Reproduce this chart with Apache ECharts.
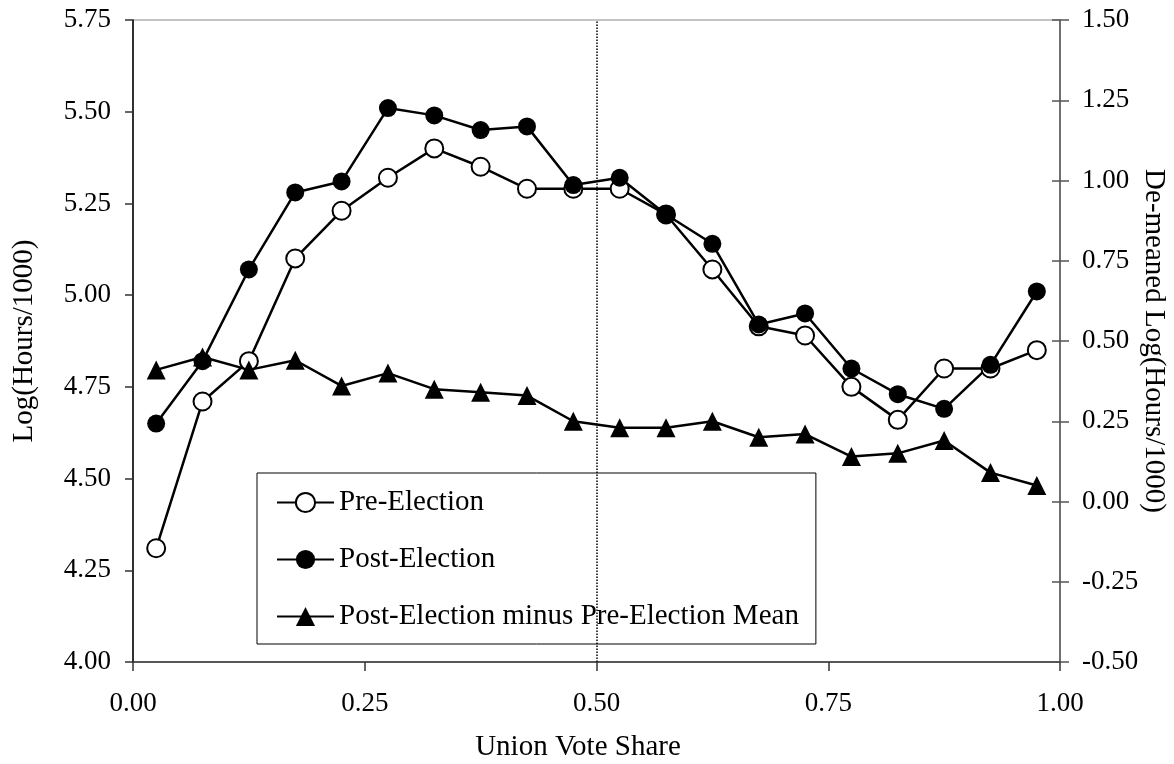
<!DOCTYPE html>
<html>
<head>
<meta charset="utf-8">
<script src="https://cdn.jsdelivr.net/npm/echarts@6/dist/echarts.min.js"></script>
<style>
  html, body { margin: 0; padding: 0; background: #fff; }
  #chart { width: 1174px; height: 764px; }
</style>
</head>
<body>
<div id="chart"></div>
<script>
// bin midpoints of union vote share
const voteShare = [0.025, 0.075, 0.125, 0.175, 0.225, 0.275, 0.325, 0.375, 0.425, 0.475,
                   0.525, 0.575, 0.625, 0.675, 0.725, 0.775, 0.825, 0.875, 0.925, 0.975];
// left axis: Log(Hours/1000)
const preElection = [4.31, 4.71, 4.82, 5.10, 5.23, 5.32, 5.40, 5.35, 5.29, 5.29,
                     5.29, 5.22, 5.07, 4.915, 4.89, 4.75, 4.66, 4.80, 4.80, 4.85];
const postElection = [4.65, 4.82, 5.07, 5.28, 5.31, 5.51, 5.49, 5.45, 5.46, 5.30,
                      5.32, 5.22, 5.14, 4.92, 4.95, 4.80, 4.73, 4.69, 4.81, 5.01];
// right axis: de-meaned
const postMinusPreMean = [0.41, 0.45, 0.41, 0.44, 0.36, 0.40, 0.35, 0.34, 0.33, 0.25,
                          0.23, 0.23, 0.25, 0.20, 0.21, 0.14, 0.15, 0.19, 0.09, 0.05];
const cutoff = 0.5;

const FONT = "'Liberation Serif', 'Times New Roman', serif";

const pairs = (ys) => voteShare.map((x, i) => [x, ys[i]]);

const chart = echarts.init(document.getElementById('chart'));

const tickLabel = {
  fontFamily: FONT, fontSize: 27, color: '#000', margin: 22,
  formatter: (v) => v.toFixed(2)
};

chart.setOption({
  animation: false,
  backgroundColor: '#fff',
  grid: {
    left: 133, right: 114, top: 20, bottom: 102,
    outerBoundsMode: 'none', containLabel: false,
    show: true, borderColor: '#888', borderWidth: 1
  },
  legend: {
    orient: 'vertical',
    left: 257, top: 473,
    padding: [15, 17, 13, 19],
    itemWidth: 57, itemHeight: 24, itemGap: 28,
    backgroundColor: '#fff',
    borderColor: '#000', borderWidth: 1, borderRadius: 0,
    textStyle: { fontFamily: FONT, fontSize: 29, color: '#000' },
    data: ['Pre-Election', 'Post-Election', 'Post-Election minus Pre-Election Mean']
  },
  xAxis: {
    type: 'value', min: 0, max: 1, interval: 0.25,
    splitLine: { show: false },
    axisLine: { onZero: false, lineStyle: { color: '#333', width: 1.5 } },
    axisTick: { length: 9, lineStyle: { color: '#333', width: 1.5 } },
    axisLabel: Object.assign({}, tickLabel, { margin: 28 })
  },
  yAxis: [
    {
      type: 'value', position: 'left', min: 4, max: 5.75, interval: 0.25,
      name: 'Log(Hours/1000)', nameLocation: 'middle', nameGap: 94,
      nameTextStyle: { fontFamily: FONT, fontSize: 29, color: '#000' },
      splitLine: { show: false },
      axisLine: { show: true, onZero: false, lineStyle: { color: '#000', width: 1.5 } },
      axisTick: { show: true, length: 8, lineStyle: { color: '#333', width: 1.5 } },
      axisLabel: tickLabel
    },
    {
      type: 'value', position: 'right', min: -0.5, max: 1.5, interval: 0.25,
      splitLine: { show: false },
      axisLine: { show: true, onZero: false, lineStyle: { color: '#555', width: 1.5 } },
      axisTick: { show: true, length: 9, lineStyle: { color: '#555', width: 1.5 } },
      axisLabel: Object.assign({}, tickLabel, { margin: 22 })
    },
    {
      // inner half of the crossing ticks on the right axis
      type: 'value', position: 'right', min: -0.5, max: 1.5, interval: 0.25,
      splitLine: { show: false },
      axisLine: { show: false, onZero: false },
      axisTick: { show: true, inside: true, length: 8, lineStyle: { color: '#555', width: 1.5 } },
      axisLabel: { show: false }
    }
  ],
  graphic: [
    {
      type: 'text', x: 578, y: 747,
      style: {
        text: 'Union Vote Share', fontFamily: FONT, fontSize: 29, fill: '#000',
        align: 'center', verticalAlign: 'middle'
      }
    },
    {
      type: 'text', x: 1154, y: 341, rotation: -Math.PI / 2,
      style: {
        text: 'De-meaned Log(Hours/1000)', fontFamily: FONT, fontSize: 29, fill: '#000',
        align: 'center', verticalAlign: 'middle'
      }
    }
  ],
  series: [
    {
      name: 'Pre-Election', type: 'line', yAxisIndex: 0,
      data: pairs(preElection),
      symbol: 'circle', symbolSize: 18,
      lineStyle: { color: '#000', width: 2.5 },
      itemStyle: { color: '#fff', borderColor: '#000', borderWidth: 2 },
      markLine: {
        silent: true, symbol: 'none',
        label: { show: false },
        lineStyle: { color: '#000', type: 'dotted', width: 1.5 },
        data: [{ xAxis: cutoff }]
      }
    },
    {
      name: 'Post-Election', type: 'line', yAxisIndex: 0,
      data: pairs(postElection),
      symbol: 'circle', symbolSize: 18,
      lineStyle: { color: '#000', width: 2.5 },
      itemStyle: { color: '#000' }
    },
    {
      name: 'Post-Election minus Pre-Election Mean', type: 'line', yAxisIndex: 1,
      data: pairs(postMinusPreMean),
      symbol: 'triangle', symbolSize: 19,
      lineStyle: { color: '#000', width: 2.5 },
      itemStyle: { color: '#000' }
    }
  ]
});
</script>
</body>
</html>
